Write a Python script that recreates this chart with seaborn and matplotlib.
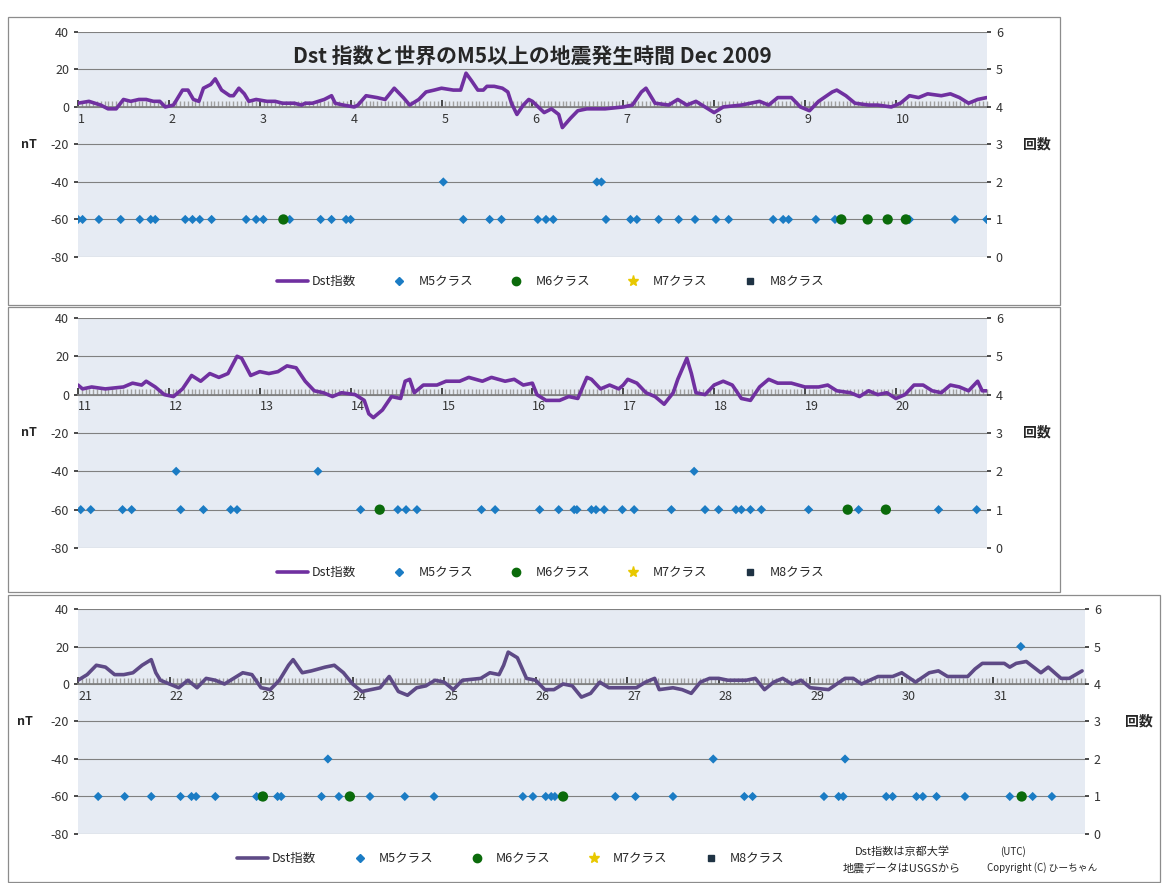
import numpy as np
import pandas as pd
import matplotlib.pyplot as plt
import seaborn as sns
from matplotlib.patches import Rectangle
from matplotlib.lines import Line2D

sns.set(style='white')
plt.rcParams['font.family'] = ['Noto Sans CJK JP', 'DejaVu Sans']
plt.rcParams['axes.unicode_minus'] = False

# Dst 指数 (nT) 日付と値
dst_day_1 = [1.0, 1.12, 1.25, 1.33, 1.42, 1.5, 1.58, 1.67, 1.75, 1.83, 1.9, 1.96, 2.05, 2.15, 2.21, 2.27, 2.33, 2.38, 2.46, 2.51, 2.58, 2.67, 2.71, 2.77, 2.83, 2.88, 2.96, 3.08, 3.17, 3.25, 3.38, 3.46, 3.5, 3.58, 3.71, 3.79, 3.83, 3.92, 4.04, 4.08, 4.17, 4.29, 4.38, 4.48, 4.58, 4.65, 4.75, 4.83, 4.92, 5.0, 5.13, 5.21, 5.27, 5.33, 5.4, 5.46, 5.5, 5.58, 5.67, 5.73, 5.77, 5.83, 5.9, 5.96, 6.0, 6.13, 6.21, 6.29, 6.33, 6.42, 6.5, 6.6, 6.8, 7.0, 7.1, 7.2, 7.25, 7.35, 7.5, 7.6, 7.7, 7.8, 7.9, 8.0, 8.1, 8.3, 8.5, 8.6, 8.7, 8.85, 8.95, 9.05, 9.15, 9.3, 9.35, 9.45, 9.55, 9.7, 9.8, 9.95, 10.05, 10.15, 10.25, 10.35, 10.5, 10.6, 10.7, 10.8, 10.9, 11.0]
dst_val_1 = [2, 3, 1, -1, -1, 4, 3, 4, 4, 3, 3, 0, 1, 9, 9, 4, 3, 10, 12, 15, 9, 6, 6, 10, 7, 3, 4, 3, 3, 2, 2, 1, 2, 2, 4, 6, 2, 1, 0, 1, 6, 5, 4, 10, 5, 1, 4, 8, 9, 10, 9, 9, 18, 14, 9, 9, 11, 11, 10, 8, 2, -4, 1, 4, 3, -3, -1, -4, -11, -6, -2, -1, -1, 0, 1, 8, 10, 2, 1, 4, 1, 3, 0, -3, 0, 1, 3, 1, 5, 5, 0, -2, 3, 8, 9, 6, 2, 1, 1, 0, 2, 6, 5, 7, 6, 7, 5, 2, 4, 5]

dst_day_2 = [11.0, 11.05, 11.15, 11.3, 11.5, 11.6, 11.7, 11.75, 11.85, 11.95, 12.05, 12.15, 12.25, 12.35, 12.45, 12.55, 12.65, 12.75, 12.8, 12.9, 13.0, 13.1, 13.2, 13.3, 13.4, 13.5, 13.6, 13.7, 13.8, 13.9, 14.05, 14.15, 14.2, 14.25, 14.35, 14.45, 14.55, 14.6, 14.65, 14.7, 14.8, 14.95, 15.05, 15.2, 15.3, 15.45, 15.55, 15.7, 15.8, 15.9, 16.0, 16.05, 16.15, 16.3, 16.4, 16.5, 16.6, 16.65, 16.75, 16.85, 16.95, 17.0, 17.05, 17.15, 17.25, 17.35, 17.45, 17.55, 17.6, 17.7, 17.75, 17.8, 17.9, 18.0, 18.1, 18.2, 18.3, 18.4, 18.5, 18.6, 18.7, 18.85, 19.0, 19.15, 19.25, 19.35, 19.5, 19.6, 19.7, 19.8, 19.9, 20.0, 20.1, 20.2, 20.3, 20.4, 20.5, 20.6, 20.7, 20.8, 20.9, 20.95, 21.0]
dst_val_2 = [5, 3, 4, 3, 4, 6, 5, 7, 4, 0, -1, 3, 10, 7, 11, 9, 11, 20, 19, 10, 12, 11, 12, 15, 14, 7, 2, 1, -1, 1, 0, -3, -10, -12, -8, -1, -2, 7, 8, 1, 5, 5, 7, 7, 9, 7, 9, 7, 8, 5, 6, 0, -3, -3, -1, -2, 9, 8, 3, 5, 3, 5, 8, 6, 1, -1, -5, 1, 8, 19, 11, 1, 0, 5, 7, 5, -2, -3, 4, 8, 6, 6, 4, 4, 5, 2, 1, -1, 2, 0, 1, -2, 0, 5, 5, 2, 1, 5, 4, 2, 7, 2, 2]

dst_day_3 = [21.0, 21.1, 21.2, 21.3, 21.4, 21.5, 21.6, 21.7, 21.8, 21.85, 21.9, 22.0, 22.1, 22.2, 22.3, 22.4, 22.5, 22.6, 22.7, 22.8, 22.9, 23.0, 23.1, 23.2, 23.3, 23.35, 23.45, 23.55, 23.7, 23.8, 23.9, 24.0, 24.1, 24.2, 24.3, 24.4, 24.5, 24.6, 24.7, 24.8, 24.9, 25.0, 25.1, 25.2, 25.4, 25.5, 25.6, 25.65, 25.7, 25.8, 25.9, 26.0, 26.1, 26.2, 26.3, 26.4, 26.5, 26.6, 26.7, 26.8, 26.9, 27.0, 27.1, 27.2, 27.3, 27.35, 27.5, 27.6, 27.7, 27.8, 27.9, 28.0, 28.1, 28.2, 28.3, 28.4, 28.5, 28.6, 28.7, 28.8, 28.9, 29.0, 29.2, 29.38, 29.47, 29.56, 29.65, 29.74, 29.9, 30.0, 30.15, 30.3, 30.4, 30.5, 30.72, 30.8, 30.88, 31.12, 31.18, 31.25, 31.36, 31.52, 31.6, 31.74, 31.83, 31.97]
dst_val_3 = [2, 5, 10, 9, 5, 5, 6, 10, 13, 6, 2, 0, -2, 2, -2, 3, 2, 0, 3, 6, 5, -2, -3, 2, 10, 13, 6, 7, 9, 10, 6, 0, -4, -3, -2, 4, -4, -6, -2, -1, 2, 1, -3, 2, 3, 6, 5, 10, 17, 14, 3, 2, -3, -3, 0, -1, -7, -5, 1, -2, -2, -2, -2, 1, 3, -3, -2, -3, -5, 1, 3, 3, 2, 2, 2, 3, -3, 1, 3, 0, 2, -2, -3, 3, 3, 0, 2, 4, 4, 6, 1, 6, 7, 4, 4, 8, 11, 11, 9, 11, 12, 6, 9, 3, 3, 7]

# 地震 (日付, 回数)
m5_day_1 = [1.0, 1.05, 1.23, 1.47, 1.68, 1.8, 1.85, 2.18, 2.26, 2.34, 2.47, 2.85, 2.96, 3.04, 3.33, 3.67, 3.79, 3.95, 4.0, 5.02, 5.24, 5.53, 5.66, 6.06, 6.15, 6.23, 6.71, 6.76, 6.81, 7.08, 7.15, 7.39, 7.61, 7.79, 8.02, 8.16, 8.65, 8.76, 8.82, 9.12, 9.33, 9.68, 10.15, 10.65, 11.0]
m5_cnt_1 = [1] * 19 + [2] + [1] * 6 + [2, 2] + [1] * 17
m6_day_1 = [3.26, 9.4, 9.69, 9.91, 10.11]
m6_cnt_1 = [1, 1, 1, 1, 1]

m5_day_2 = [11.03, 11.14, 11.49, 11.59, 12.13, 12.38, 12.68, 12.75, 14.11, 14.52, 14.61, 14.73, 15.44, 15.59, 16.08, 16.29, 16.46, 16.49, 16.65, 16.7, 16.79, 16.99, 17.12, 17.53, 17.9, 18.05, 18.24, 18.3, 18.4, 18.52, 19.04, 19.59, 20.47, 20.89, 12.08, 13.64, 17.78]
m5_cnt_2 = [1] * 34 + [2, 2, 2]
m6_day_2 = [14.32, 19.47, 19.89]
m6_cnt_2 = [1, 1, 1]

m5_day_3 = [21.22, 21.51, 21.8, 22.12, 22.24, 22.29, 22.5, 22.95, 22.99, 23.18, 23.22, 23.66, 23.85, 24.19, 24.57, 24.89, 25.86, 25.97, 26.11, 26.17, 26.21, 26.87, 27.09, 27.5, 28.28, 28.37, 29.15, 29.31, 29.36, 29.83, 29.9, 30.16, 30.23, 30.38, 30.69, 31.18, 31.43, 31.64, 23.73, 27.94, 29.38, 31.3]
m5_cnt_3 = [1] * 38 + [2, 2, 2, 5]
m6_day_3 = [23.02, 23.97, 26.3, 31.31]
m6_cnt_3 = [1, 1, 1, 1]

panels = [
    (dst_day_1, dst_val_1, m5_day_1, m5_cnt_1, m6_day_1, m6_cnt_1, range(1, 11), (1, 11)),
    (dst_day_2, dst_val_2, m5_day_2, m5_cnt_2, m6_day_2, m6_cnt_2, range(11, 21), (11, 21)),
    (dst_day_3, dst_val_3, m5_day_3, m5_cnt_3, m6_day_3, m6_cnt_3, range(21, 32), (21, 32)),
]
# 軸の位置 (figure 座標)
axes_pos = [[0.0668, 0.709, 0.778, 0.2548],
            [0.0668, 0.3794, 0.778, 0.2605],
            [0.0668, 0.0555, 0.862, 0.2548]]
boxes = [(8, 17, 1060, 305), (8, 307, 1060, 592), (8, 595, 1160, 882)]
line_colors = ['#7030A0', '#7030A0', '#5E4A86']

W, H = 1168, 883
fig = plt.figure(figsize=(W / 100, H / 100), dpi=100)
fig.patch.set_facecolor('white')

for (x0, y0, x1, y1) in boxes:
    fig.add_artist(Rectangle((x0 / W, 1 - y1 / H), (x1 - x0) / W, (y1 - y0) / H,
                             transform=fig.transFigure, fill=False, edgecolor='#8c8c8c', lw=0.9))

for i, (dd, dv, d5, c5, d6, c6, ticks, lim) in enumerate(panels):
    ax = fig.add_axes(axes_pos[i])
    ax.set_facecolor('#E6EBF3')
    for yv in [-80, -60, -40, -20, 20, 40]:
        ax.axhline(yv, color='#808080', lw=0.8, zorder=1)
    ax.axhline(0, color='#808080', lw=0.8, zorder=1)
    sns.lineplot(x=dd, y=dv, ax=ax, color=line_colors[i], lw=2.6, zorder=3)
    ax.set_xlim(*lim)
    ax.set_ylim(-80, 40)
    ax.set_yticks(range(-80, 41, 20))
    ax.tick_params(axis='y', labelsize=9, colors='#333333', length=3, left=True)
    for s in ax.spines.values():
        s.set_visible(False)
    ax.spines['bottom'].set_visible(True)
    ax.spines['bottom'].set_position(('data', 0))
    ax.spines['bottom'].set_color('#808080')
    ax.set_xticks(list(ticks))
    ax.set_xticks(np.arange(lim[0], lim[1] + 0.001, 1 / 24), minor=True)
    ax.tick_params(axis='x', which='major', direction='in', length=5, pad=4, labelsize=9,
                   colors='#333333', bottom=True)
    ax.tick_params(axis='x', which='minor', direction='in', length=4, color='#a0a0a0', bottom=True)
    for lab in ax.get_xticklabels():
        lab.set_horizontalalignment('left')
    ax.set_xlabel('')
    ax.set_ylabel('')
    ax.text(-0.045, 0.5, 'nT', transform=ax.transAxes, ha='right', va='center',
            fontsize=9, fontweight='bold')

    ax2 = ax.twinx()
    ax2.set_ylim(0, 6)
    ax2.set_yticks(range(0, 7))
    for s in ax2.spines.values():
        s.set_visible(False)
    ax2.tick_params(axis='y', labelsize=9, colors='#333333', length=3, right=True)
    sns.scatterplot(x=d5, y=c5, ax=ax2, marker='D', s=22, color='#1B7CC4', edgecolor='none', zorder=4)
    sns.scatterplot(x=d6, y=c6, ax=ax2, marker='o', s=55, color='#0B6B0B', edgecolor='none', zorder=5)
    ax2.set_xlim(*lim)
    ax2.set_ylabel('')
    ax2.text(1.04, 0.5, '回数', transform=ax2.transAxes, ha='left', va='center',
             fontsize=10, fontweight='bold')

    handles = [Line2D([], [], color=line_colors[i], lw=2.6),
               Line2D([], [], marker='D', color='#1B7CC4', ls='', ms=4),
               Line2D([], [], marker='o', color='#0B6B0B', ls='', ms=6),
               Line2D([], [], marker='*', color='#E8C800', ls='', ms=8),
               Line2D([], [], marker='s', color='#1F3344', ls='', ms=5)]
    labels = ['Dst指数', 'M5クラス', 'M6クラス', 'M7クラス', 'M8クラス']
    anchor_x = 0.52 if i < 2 else 0.43
    ax.legend(handles, labels, loc='upper center', bbox_to_anchor=(anchor_x, -0.03), ncol=5,
              frameon=False, fontsize=9, columnspacing=2.2, handlelength=2.5, handletextpad=0.3)

    if i == 0:
        ax.text(0.5, 0.94, 'Dst 指数と世界のM5以上の地震発生時間 Dec 2009', transform=ax.transAxes,
                ha='center', va='top', fontsize=15, fontweight='bold')

fig.text(855 / W, 1 - 852 / H, 'Dst指数は京都大学', fontsize=8, va='center')
fig.text(1000 / W, 1 - 852 / H, '(UTC)', fontsize=7, va='center')
fig.text(843 / W, 1 - 868 / H, '地震データはUSGSから', fontsize=8, va='center')
fig.text(987 / W, 1 - 868 / H, 'Copyright (C) ひーちゃん', fontsize=7, va='center')

plt.savefig('out.png', dpi=100)
